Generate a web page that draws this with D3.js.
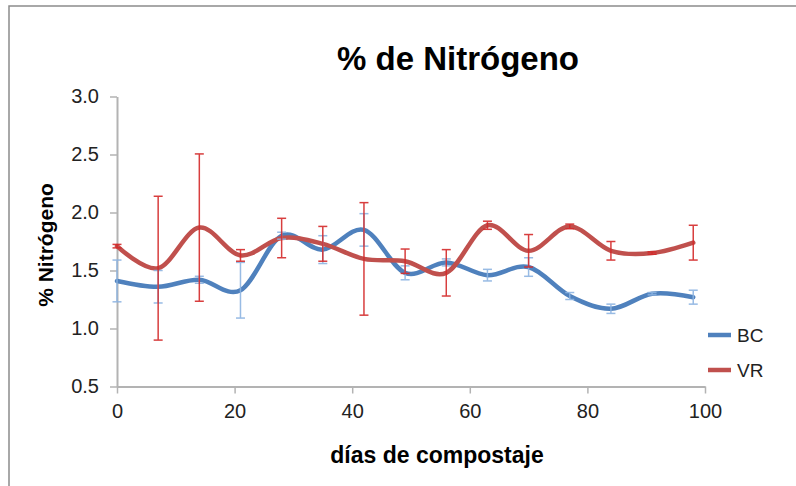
<!DOCTYPE html>
<html>
<head>
<meta charset="utf-8">
<script src="https://cdn.jsdelivr.net/npm/d3@7"></script>
<style>
  body { margin: 0; background: #fff; }
  text { font-family: "Liberation Sans", Arial, sans-serif; }
</style>
</head>
<body>
<svg id="chart" width="796" height="486"></svg>
<script>
// dias de compostaje
var days = [0, 7, 14, 21, 28, 35, 42, 49, 56, 63, 70, 77, 84, 91, 98]

// % N, serie BC
var bc    = [1.41, 1.36, 1.42, 1.33, 1.80, 1.68, 1.85, 1.48, 1.57, 1.46, 1.53, 1.28, 1.17, 1.30, 1.27]
var bcErr = [0.18, 0.14, 0.03, 0.24, 0.03, 0.12, 0.14, 0.06, 0.03, 0.05, 0.08, 0.03, 0.04, 0.01, 0.06]

// % N, serie VR
var vr    = [1.71, 1.52, 1.87, 1.63, 1.78, 1.73, 1.60, 1.58, 1.48, 1.89, 1.67, 1.88, 1.67, 1.65, 1.74]
var vrErr = [0.015, 0.62, 0.635, 0.05, 0.17, 0.15, 0.485, 0.105, 0.2, 0.035, 0.14, 0.02, 0.08, 0.01, 0.15]

var xTicks = [0, 20, 40, 60, 80, 100]
var yTicks = [0.5, 1.0, 1.5, 2.0, 2.5, 3.0]

var series = [
  { name: "BC", values: bc, err: bcErr, color: "#4f81bd", errColor: "#8db4e2" },
  { name: "VR", values: vr, err: vrErr, color: "#c0504d", errColor: "#d42a2a" }
]

var svg = d3.select("#chart")

// chart frame (only top / left edges visible)
svg.append("path")
  .attr("d", "M9,486V6H796")
  .attr("fill", "none")
  .attr("stroke", "#8c8c8c")
  .attr("stroke-width", 1.5)

var x = d3.scaleLinear().domain([0, 100]).range([117, 705])
var y = d3.scaleLinear().domain([0.5, 3]).range([386.5, 96.5])

// axes
var xAxis = svg.append("g")
  .attr("transform", "translate(0," + y(0.5) + ")")
  .call(d3.axisBottom(x).tickValues(xTicks).tickSizeInner(7).tickSizeOuter(0).tickPadding(10))
var yAxis = svg.append("g")
  .attr("transform", "translate(" + x(0) + ",0)")
  .call(d3.axisLeft(y).tickValues(yTicks).tickFormat(d3.format(".1f")).tickSizeInner(7).tickSizeOuter(0).tickPadding(11))

;[xAxis, yAxis].forEach(g => {
  g.select(".domain").attr("stroke", "#b3b3b3").attr("stroke-width", 2)
  g.selectAll(".tick line").attr("stroke", "#b3b3b3").attr("stroke-width", 1.5)
  g.selectAll(".tick text")
    .attr("fill", "#222")
    .style("font-size", "20px")
    .style("font-family", "'Liberation Sans', Arial, sans-serif")
})

// smooth lines like excel
var line = d3.line()
  .x((d, i) => x(days[i]))
  .y(d => y(d))
  .curve(d3.curveCatmullRom.alpha(0))

series.forEach(s => {
  svg.append("path")
    .datum(s.values)
    .attr("d", line)
    .attr("fill", "none")
    .attr("stroke", s.color)
    .attr("stroke-width", 4.5)
    .attr("stroke-linecap", "round")
})

// error bars
series.forEach(s => {
  var g = svg.append("g")
    .attr("stroke", s.errColor)
    .attr("stroke-width", 1.5)
    .attr("opacity", 0.9)
  s.values.forEach((v, i) => {
    var cx = x(days[i])
    var lo = y(v - s.err[i]), hi = y(v + s.err[i])
    g.append("line").attr("x1", cx).attr("x2", cx).attr("y1", lo).attr("y2", hi)
    g.append("line").attr("x1", cx - 4.5).attr("x2", cx + 4.5).attr("y1", lo).attr("y2", lo)
    g.append("line").attr("x1", cx - 4.5).attr("x2", cx + 4.5).attr("y1", hi).attr("y2", hi)
  })
})

// legend
var legend = svg.append("g")
series.forEach((s, i) => {
  var ly = 335 + i * 35
  legend.append("line")
    .attr("x1", 708).attr("x2", 731)
    .attr("y1", ly).attr("y2", ly)
    .attr("stroke", s.color).attr("stroke-width", 4.5)
  legend.append("text")
    .attr("x", 737).attr("y", ly)
    .attr("dy", "0.35em")
    .style("font-size", "19px")
    .attr("fill", "#222")
    .text(s.name)
})

// titles
svg.append("text")
  .attr("x", 458).attr("y", 70)
  .attr("text-anchor", "middle")
  .style("font-size", "33px")
  .style("font-weight", "bold")
  .text("% de Nitrógeno")

svg.append("text")
  .attr("x", 437).attr("y", 463)
  .attr("text-anchor", "middle")
  .style("font-size", "23px")
  .style("font-weight", "bold")
  .text("días de compostaje")

svg.append("text")
  .attr("transform", "translate(53,245) rotate(-90)")
  .attr("text-anchor", "middle")
  .style("font-size", "21px")
  .style("font-weight", "bold")
  .text("% Nitrógeno")
</script>
</body>
</html>
